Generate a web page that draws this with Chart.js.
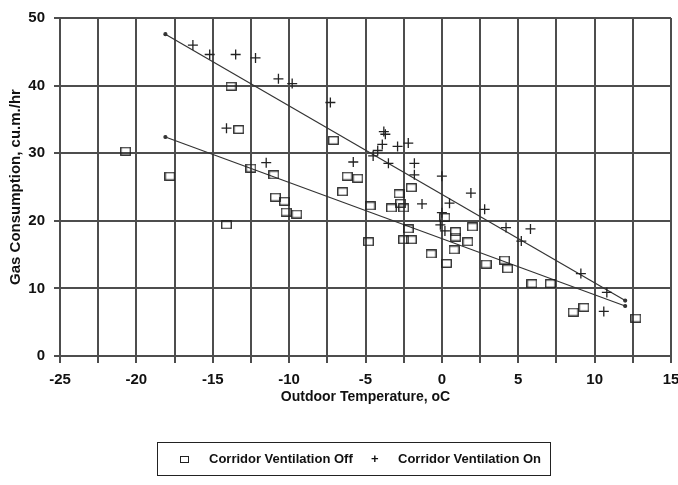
<!DOCTYPE html>
<html><head><meta charset="utf-8">
<script src="https://cdn.jsdelivr.net/npm/chart.js@4/dist/chart.umd.min.js"></script>
<style>
html,body{margin:0;padding:0;background:#fff;}
#wrap{position:relative;width:678px;height:485px;}
#legend{position:absolute;left:157px;top:442px;width:394px;height:34px;border:1px solid #222;box-sizing:border-box;font:bold 13px "Liberation Sans",Arial,sans-serif;color:#111;}
#legend .it{position:absolute;top:0;height:32px;line-height:32px;white-space:nowrap;}
#legend .sq{position:absolute;top:13px;width:7px;height:5px;border:1.3px solid #222;}
</style></head>
<body><div id="wrap"><canvas id="c" width="678" height="485"></canvas><div id="legend"></div></div>
<script>
// ---- data ----
const seriesNames = ["Corridor Ventilation Off", "Corridor Ventilation On"];
const offTemp = [-20.7,-17.8,-14.1,-13.8,-13.3,-12.5,-11.0,-10.9,-10.3,-10.2,-9.5,-7.1,-6.2,-5.5,-6.5,-4.7,-4.8,-2.8,-2.0,-2.7,-3.3,-2.5,-2.2,-2.5,-2.0,0.2,0.9,0.9,2.0,1.7,0.8,-0.7,0.3,2.9,4.1,4.3,5.9,7.1,8.6,9.3,12.7];
const offGas  = [30.3,26.6,19.4,39.9,33.5,27.8,26.8,23.5,22.9,21.3,21.0,31.9,26.6,26.3,24.3,22.2,16.9,24.0,24.9,22.6,21.9,21.9,18.8,17.2,17.2,20.5,18.4,17.6,19.1,16.9,15.7,15.1,13.7,13.6,14.2,12.9,10.7,10.7,6.5,7.2,5.6];
const onTemp = [-16.3,-15.2,-13.5,-12.2,-10.7,-9.8,-14.1,-11.5,-7.3,-3.8,-3.7,-3.9,-2.9,-2.2,-4.2,-4.5,-3.5,-5.8,-1.8,-1.8,0.0,1.9,-1.3,0.5,0.0,-0.1,0.2,2.8,4.2,5.8,5.2,9.1,10.8,10.6];
const onGas  = [46.0,44.6,44.6,44.1,41.0,40.3,33.7,28.6,37.5,33.2,32.8,31.3,31.0,31.5,30.4,29.6,28.5,28.7,28.5,26.8,26.6,24.1,22.5,22.6,21.2,19.4,18.5,21.7,19.0,18.8,17.0,12.2,9.4,6.6];
const offTrendTemp = [-18.1, 12.0];
const offTrendGas  = [32.4, 7.4];
const onTrendTemp  = [-18.1, 12.0];
const onTrendGas   = [47.6, 8.2];
const xLabelValues = [-25,-20,-15,-10,-5,0,5,10,15];
const yLabelValues = [0,10,20,30,40,50];
const xTitle = "Outdoor Temperature, oC";
const yTitle = "Gas Consumption, cu.m./hr";

const pts = (xs, ys) => xs.map((x, i) => ({x: x, y: ys[i]}));

// hollow rectangle marker
const sq = document.createElement('canvas');
sq.width = 11; sq.height = 9;
(function(){const g = sq.getContext('2d'); g.strokeStyle = '#222'; g.lineWidth = 1.3; g.strokeRect(0.75, 0.75, 9.5, 7.5);})();

const FONT = '"Liberation Sans", Arial, sans-serif';
const gridCol = '#4d4d4d';

new Chart(document.getElementById('c'), {
  type: 'scatter',
  data: {
    datasets: [
      {label: seriesNames[0], data: pts(offTemp, offGas), pointStyle: sq, pointRadius: 5, borderColor: '#222', backgroundColor: 'transparent'},
      {label: seriesNames[1], data: pts(onTemp, onGas), pointStyle: 'cross', pointRadius: 5, borderWidth: 1.3, borderColor: '#222', backgroundColor: '#222'},
      {label: 'on-trend', data: pts(onTrendTemp, onTrendGas), showLine: true, borderColor: '#333', borderWidth: 1.2, pointRadius: 1.5, pointBackgroundColor: '#333', pointBorderColor: '#333'},
      {label: 'off-trend', data: pts(offTrendTemp, offTrendGas), showLine: true, borderColor: '#333', borderWidth: 1.2, pointRadius: 1.5, pointBackgroundColor: '#333', pointBorderColor: '#333'}
    ]
  },
  options: {
    responsive: false,
    devicePixelRatio: 1,
    animation: false,
    layout: {padding: {left: 0, right: 0, top: 5, bottom: 79}},
    plugins: {legend: {display: false}, tooltip: {enabled: false}},
    scales: {
      x: {
        type: 'linear', min: -25, max: 15,
        afterFit: (s) => { s.height = 50; s.paddingRight = 7; },
        ticks: {stepSize: 2.5, autoSkip: false, maxRotation: 0, padding: 8, color: '#111',
          font: {family: FONT, size: 15, weight: 'bold'},
          callback: (v) => xLabelValues.includes(v) ? String(v) : ''},
        grid: {color: gridCol, lineWidth: 2, tickLength: 7, tickColor: gridCol},
        border: {color: gridCol, width: 2},
        title: {display: true, text: xTitle, color: '#111', font: {family: FONT, size: 14, weight: 'bold'}, padding: {top: 0, bottom: 0}}
      },
      y: {
        type: 'linear', min: 0, max: 50,
        afterFit: (s) => { s.width = 60; },
        ticks: {stepSize: 10, padding: 9, color: '#111',
          font: {family: FONT, size: 15, weight: 'bold'},
          callback: (v) => yLabelValues.includes(v) ? String(v) : ''},
        grid: {color: gridCol, lineWidth: 2, tickLength: 6, tickColor: gridCol},
        border: {color: gridCol, width: 2},
        title: {display: true, text: yTitle, color: '#111', font: {family: FONT, size: 15, weight: 'bold'}, padding: {top: 7, bottom: 0}}
      }
    }
  }
});

// HTML legend built from the series names
const lg = document.getElementById('legend');
const i1 = document.createElement('span'); i1.className = 'sq'; i1.style.left = '22px'; lg.appendChild(i1);
const t1 = document.createElement('span'); t1.className = 'it'; t1.style.left = '51px'; t1.textContent = seriesNames[0]; lg.appendChild(t1);
const i2 = document.createElement('span'); i2.className = 'it'; i2.style.left = '213px'; i2.textContent = '+'; lg.appendChild(i2);
const t2 = document.createElement('span'); t2.className = 'it'; t2.style.left = '240px'; t2.textContent = seriesNames[1]; lg.appendChild(t2);
</script>
</body></html>
